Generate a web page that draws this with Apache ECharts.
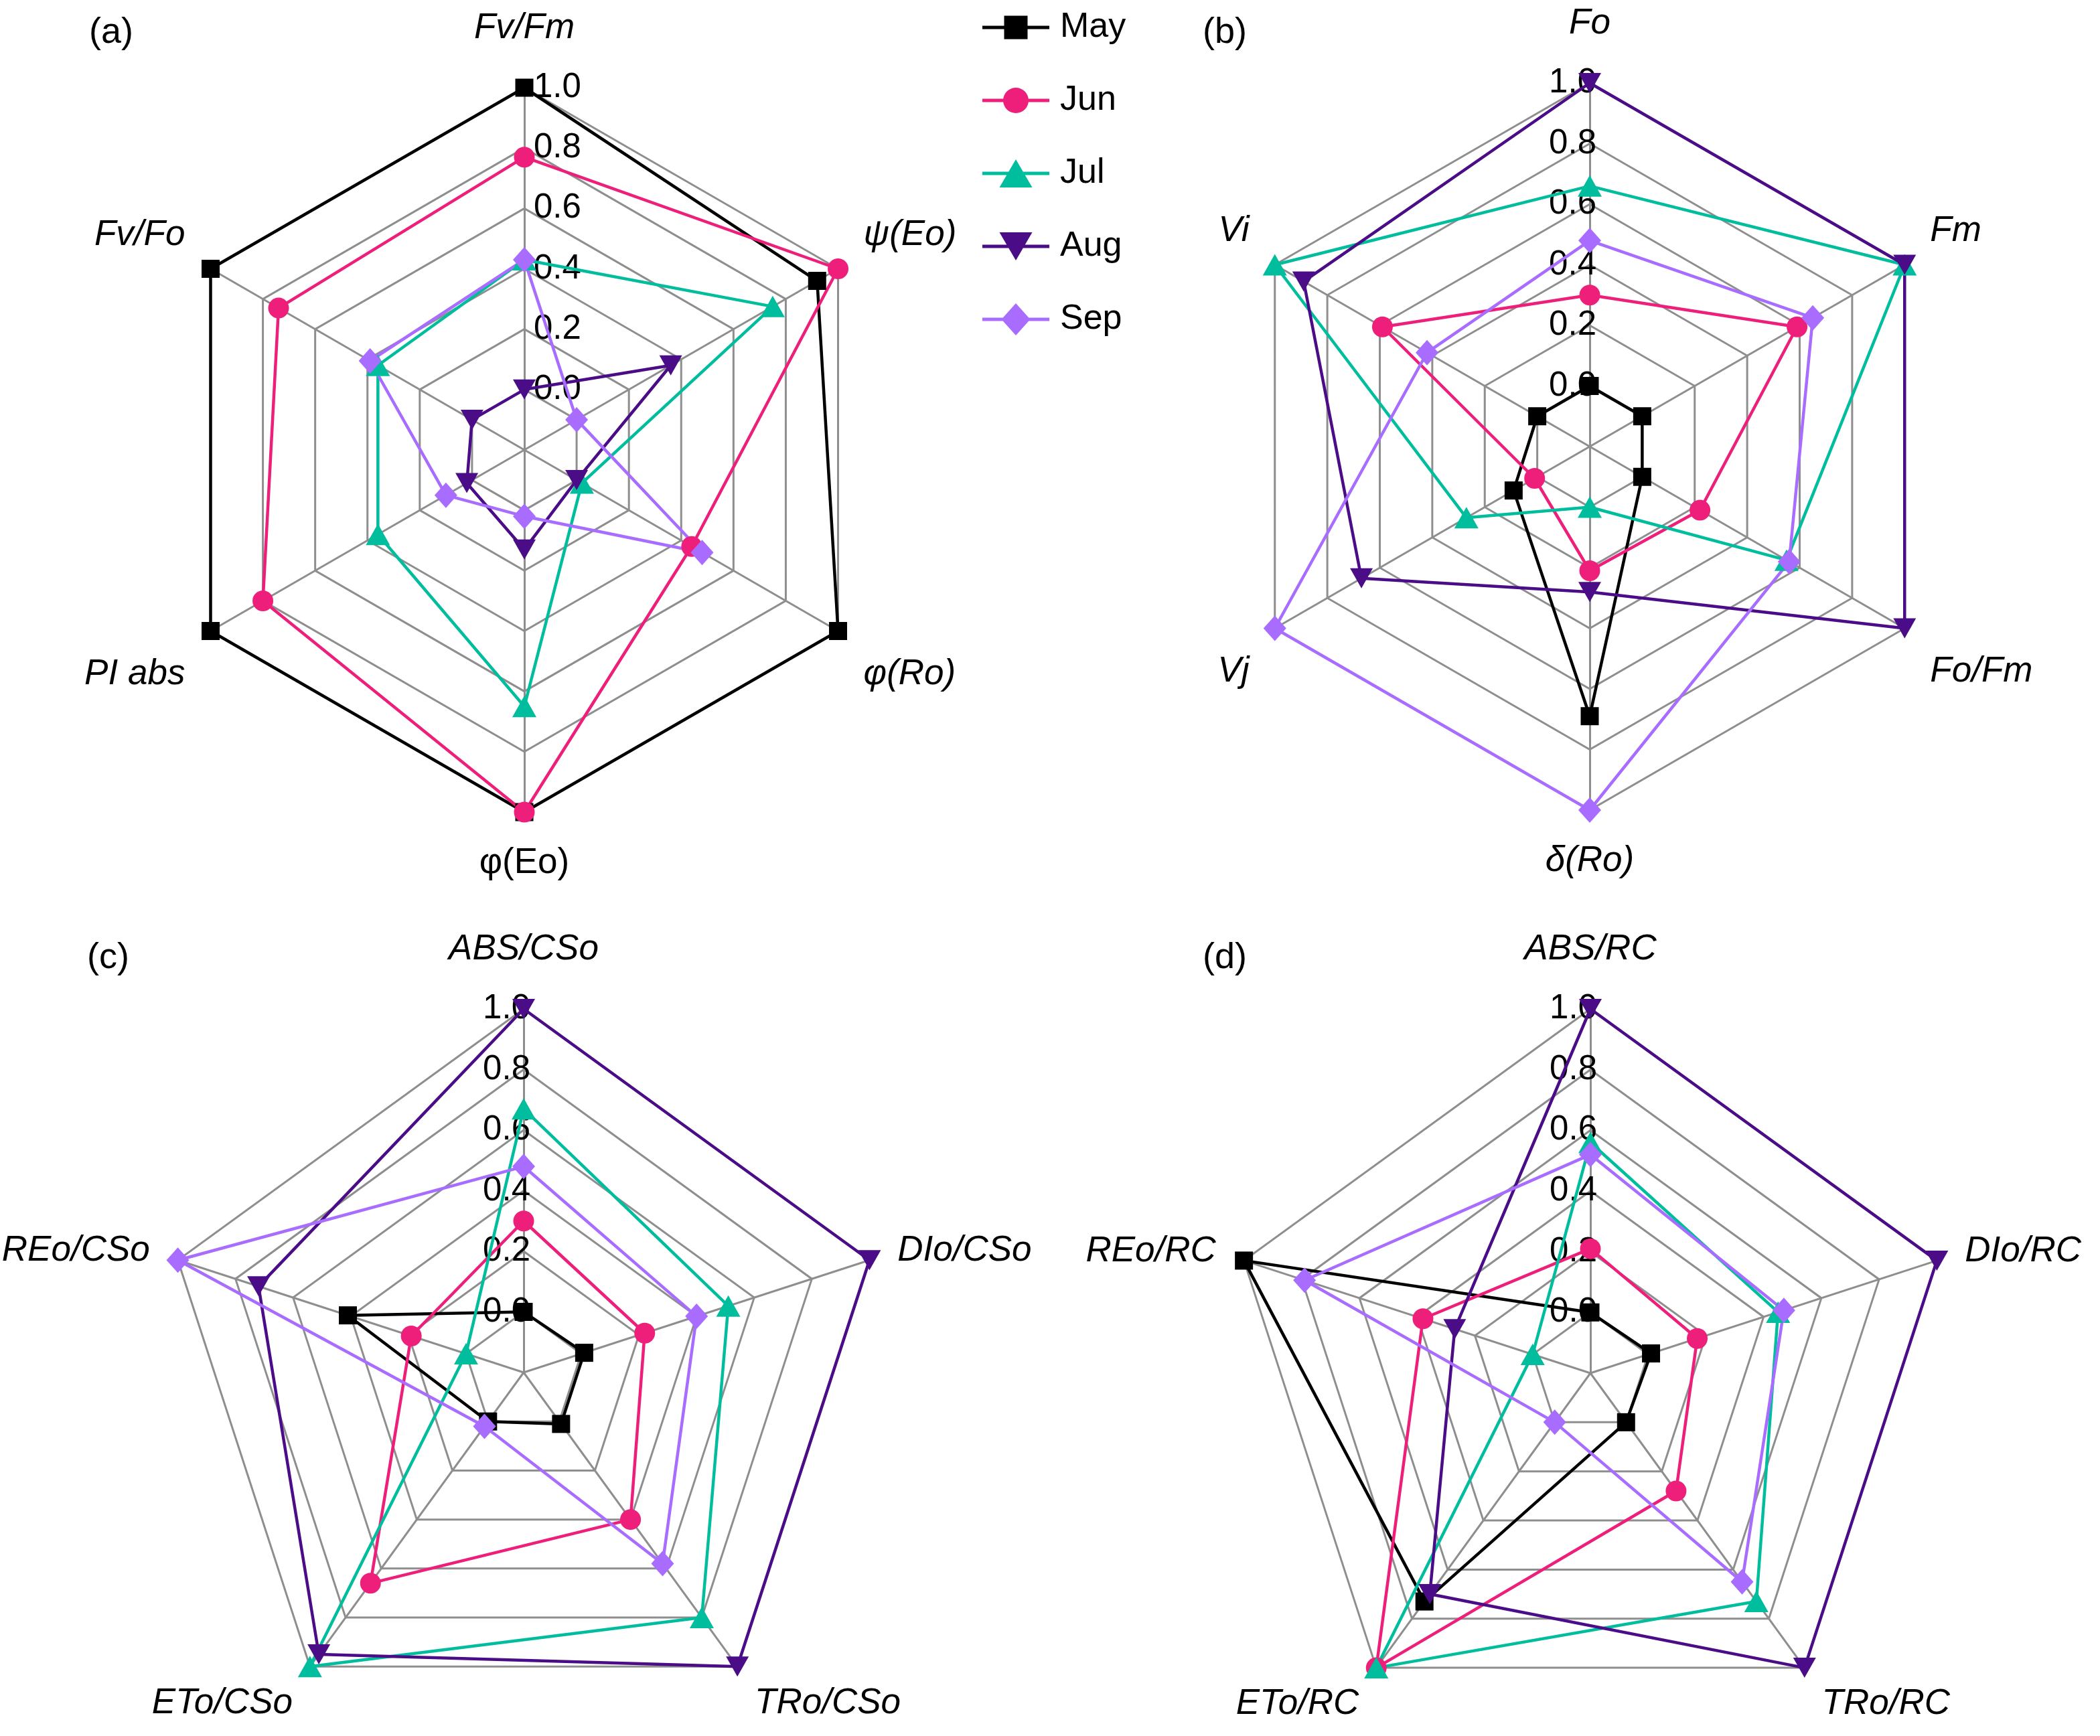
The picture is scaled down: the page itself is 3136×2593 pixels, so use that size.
<!DOCTYPE html>
<html>
<head>
<meta charset="utf-8">
<script src="https://cdn.jsdelivr.net/npm/echarts@6/dist/echarts.min.js"></script>
<style>
html,body{margin:0;padding:0;background:#ffffff;}
#chart{width:3136px;height:2593px;}
</style>
</head>
<body>
<div id="chart"></div>
<script>
// ---------------- data ----------------
const months = ['May', 'Jun', 'Jul', 'Aug', 'Sep'];
const tickLabels = ['0.0', '0.2', '0.4', '0.6', '0.8', '1.0'];

// Panel (a): axes listed clockwise starting at the top
const axesA = ['Fv/Fm', 'ψ(Eo)', 'φ(Ro)', 'φ(Eo)', 'PI abs', 'Fv/Fo'];
const mayA = [1.00, 0.92, 1.00, 1.00, 1.00, 1.00];
const junA = [0.77, 1.00, 0.44, 1.00, 0.80, 0.74];
const julA = [0.43, 0.75, 0.02, 0.65, 0.36, 0.36];
const augA = [0.00, 0.36, 0.00, 0.13, 0.02, 0.00];
const sepA = [0.43, 0.00, 0.48, 0.02, 0.10, 0.39];

// Panel (b)
const axesB = ['Fo', 'Fm', 'Fo/Fm', 'δ(Ro)', 'Vj', 'Vi'];
const mayB = [0.00, 0.00, 0.00, 0.69, 0.09, 0.00];
const junB = [0.30, 0.59, 0.22, 0.21, 0.01, 0.59];
const julB = [0.66, 1.00, 0.55, 0.00, 0.27, 1.00];
const augB = [1.00, 1.00, 1.00, 0.28, 0.67, 0.89];
const sepB = [0.48, 0.65, 0.56, 1.00, 1.00, 0.42];

// Panel (c)
const axesC = ['ABS/CSo', 'DIo/CSo', 'TRo/CSo', 'ETo/CSo', 'REo/CSo'];
const mayC = [0.00, 0.01, 0.01, 0.00, 0.41];
const junC = [0.30, 0.22, 0.40, 0.66, 0.19];
const julC = [0.67, 0.51, 0.80, 1.00, 0.00];
const augC = [1.00, 1.00, 1.00, 0.95, 0.72];
const sepC = [0.48, 0.40, 0.58, 0.02, 1.00];

// Panel (d)
const axesD = ['ABS/RC', 'DIo/RC', 'TRo/RC', 'ETo/RC', 'REo/RC'];
const mayD = [0.00, 0.01, 0.00, 0.73, 1.00];
const junD = [0.21, 0.17, 0.28, 1.00, 0.38];
const julD = [0.56, 0.45, 0.73, 1.00, 0.00];
const augD = [1.00, 1.00, 1.00, 0.70, 0.27];
const sepD = [0.52, 0.47, 0.65, 0.00, 0.79];

// ---------------- layout & styles ----------------
const FONT = '"Liberation Sans", Arial, sans-serif';
const GRID = '#8e8e8e';
const uprightNames = ['φ(Eo)'];

const panels = [
  {tag: '(a)', axes: axesA, values: [mayA, junA, julA, augA, sepA], center: [783, 672], radius: 541, tagPos: [133, 22], tickAlign: 'left', tickMargin: -14},
  {tag: '(b)', axes: axesB, values: [mayB, junB, julB, augB, sepB], center: [2374, 667], radius: 543, tagPos: [1796, 22], tickAlign: 'right', tickMargin: -10},
  {tag: '(c)', axes: axesC, values: [mayC, junC, julC, augC, sepC], center: [782, 2050], radius: 543, tagPos: [130, 1404], tickAlign: 'right', tickMargin: -10},
  {tag: '(d)', axes: axesD, values: [mayD, junD, julD, augD, sepD], center: [2375, 2051], radius: 544, tagPos: [1796, 1404], tickAlign: 'right', tickMargin: -10}
];

const monthStyle = {
  May: {color: '#000000', symbol: 'rect', size: 27},
  Jun: {color: '#EE1F7B', symbol: 'circle', size: 31},
  Jul: {color: '#00BD9D', symbol: 'triangle', size: [36, 32]},
  Aug: {color: '#4A0C87', symbol: 'path://M0,0 L10,0 L5,8.66 Z', size: [34, 30]},
  Sep: {color: '#A86CFF', symbol: 'diamond', size: [34, 38]}
};

// legend icons: line + marker, drawn in a 100 x 48 box
const LINE = 'M0 0 M100 48 M0 21.5 L100 21.5 L100 26.5 L0 26.5 Z ';
const legendIcon = {
  May: 'path://' + LINE + 'M32.5 6.5 L67.5 6.5 L67.5 41.5 L32.5 41.5 Z',
  Jun: 'path://' + LINE + 'M31 24 A19 19 0 1 1 69 24 A19 19 0 1 1 31 24 Z',
  Jul: 'path://' + LINE + 'M50 3 L74.5 45 L25.5 45 Z',
  Aug: 'path://' + LINE + 'M25.5 3 L74.5 3 L50 45 Z',
  Sep: 'path://' + LINE + 'M50 0 L71.5 24 L50 48 L28.5 24 Z'
};

// ECharts places radar axes counter-clockwise; the arrays above are clockwise
const ccw = arr => [arr[0]].concat(arr.slice(1).reverse());

// rich-text paddings that nudge names like the original layout
const padByKey = {t: [0, 0, 18, 0], b: [6, 0, 0, 0], u: [0, 0, 56, 0], m: [0, 0, 0, 0], d6: [86, 0, 0, 0], d5: [38, 0, 0, 0]};
const rich = {};
Object.keys(padByKey).forEach(k => {
  rich[k] = {fontSize: 53, fontFamily: FONT, color: '#000', fontStyle: 'italic', padding: padByKey[k]};
  rich[k + 'n'] = {fontSize: 53, fontFamily: FONT, color: '#000', fontStyle: 'normal', padding: padByKey[k]};
});

function nameKey(idx, n) {
  const a = (90 + 360 * idx / n) * Math.PI / 180;
  const s = Math.sin(a);
  if (s > 0.99) return 't';
  if (s < -0.99) return 'b';
  if (s > 0.4) return 'u';
  if (s > -0.1) return 'm';
  return n === 6 ? 'd6' : 'd5';
}

function tickText(v) {
  if (v < -0.1) return '';
  const i = Math.round(v / 0.2);
  return tickLabels[i] !== undefined ? tickLabels[i] : '';
}

const radars = panels.map(p => {
  const names = ccw(p.axes);
  return {
    center: p.center,
    radius: p.radius,
    startAngle: 90,
    shape: 'polygon',
    splitNumber: 6,
    nameGap: 44,
    indicator: names.map((nm, i) => {
      const ind = {name: nm, min: -0.2, max: 1.0};
      if (i === 0) {
        ind.axisLabel = {
          show: true, fontSize: 51, color: '#000', fontFamily: FONT,
          align: p.tickAlign, verticalAlign: 'middle', margin: p.tickMargin,
          padding: [0, 0, 10, 0], formatter: tickText
        };
      }
      return ind;
    }),
    axisName: {
      color: '#000', fontSize: 53, fontFamily: FONT, fontStyle: 'italic',
      formatter: function (name) {
        const i = names.indexOf(name);
        let key = nameKey(i, names.length);
        if (uprightNames.indexOf(name) >= 0) key += 'n';
        return '{' + key + '|' + name + '}';
      },
      rich: rich
    },
    axisLabel: {show: false},
    axisTick: {show: false},
    axisLine: {lineStyle: {color: GRID, width: 3}},
    splitLine: {lineStyle: {color: GRID, width: 3}},
    splitArea: {show: false}
  };
});

const series = panels.map((p, k) => ({
  type: 'radar',
  radarIndex: k,
  emphasis: {disabled: true},
  data: months.map((m, j) => {
    const st = monthStyle[m];
    return {
      name: m,
      value: ccw(p.values[j]),
      symbol: st.symbol,
      symbolSize: st.size,
      itemStyle: {color: st.color, borderWidth: 0},
      lineStyle: {color: st.color, width: 4.5, type: 'solid'},
      areaStyle: null
    };
  })
}));

const titles = panels.map(p => ({
  text: p.tag, left: p.tagPos[0], top: p.tagPos[1], padding: 0,
  textStyle: {fontSize: 54, fontWeight: 'normal', color: '#000', fontFamily: FONT}
}));

const chart = echarts.init(document.getElementById('chart'), null, {renderer: 'canvas'});
chart.setOption({
  backgroundColor: '#ffffff',
  animation: false,
  title: titles,
  legend: {
    orient: 'vertical',
    left: 1462,
    top: 10,
    itemWidth: 100,
    itemHeight: 48,
    itemGap: 57,
    data: months.map(m => ({name: m, icon: legendIcon[m]})),
    itemStyle: {borderWidth: 0},
    textStyle: {fontSize: 52, color: '#000', fontFamily: FONT, padding: [0, 0, 0, 11]}
  },
  radar: radars,
  series: series
});
</script>
</body>
</html>
